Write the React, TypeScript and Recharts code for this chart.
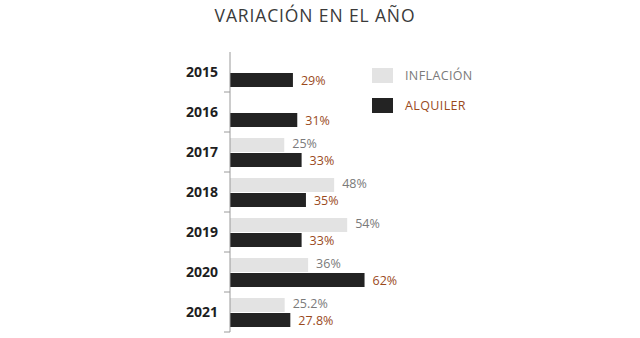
import React from 'react'
import { BarChart, Bar, XAxis, YAxis, LabelList } from 'recharts'

const years = ['2015', '2016', '2017', '2018', '2019', '2020', '2021']
const inflacion = [null, null, 25, 48, 54, 36, 25.2]
const alquiler = [29, 31, 33, 35, 33, 62, 27.8]

const COLORS = {
  infl: '#e3e3e3',
  alq: '#232323',
  inflText: '#7a7a7a',
  alqText: '#9a4a1c',
  axis: '#9a9a9a',
  title: '#3a3a3a',
}

const FONT = '"Open Sans", "DejaVu Sans", sans-serif'

const data = years.map((y, i) => ({ year: y, inflacion: inflacion[i], alquiler: alquiler[i] }))

const fmtPct = (v: any) => (v == null ? '' : `${v}%`)

function YearTick(props: any) {
  const { x, y, payload } = props
  const axisX = x + 8
  return (
    <g>
      <text x={x - 4} y={y} dy={5} textAnchor="end" fontSize={14} fontWeight={700} fill="#1e1e1e" fontFamily={FONT}>
        {payload.value}
      </text>
      <line x1={axisX - 6} x2={axisX} y1={y + 20} y2={y + 20} stroke={COLORS.axis} />
    </g>
  )
}

function LegendBox() {
  const items = [
    { label: 'INFLACIÓN', color: COLORS.infl, text: COLORS.inflText },
    { label: 'ALQUILER', color: COLORS.alq, text: COLORS.alqText },
  ]
  return (
    <div style={{ position: 'absolute', left: 372, top: 68, fontFamily: FONT }}>
      {items.map(it => (
        <div key={it.label} style={{ display: 'flex', alignItems: 'center', height: 15, marginBottom: 15 }}>
          <span style={{ width: 21, height: 15, background: it.color, display: 'inline-block' }} />
          <span style={{ marginLeft: 12, fontSize: 12.5, color: it.text, letterSpacing: '0.03em' }}>{it.label}</span>
        </div>
      ))}
    </div>
  )
}

export default function App() {
  return (
    <div style={{ position: 'absolute', left: 0, top: 0, width: 640, height: 338, background: '#fff' }}>
      <div
        style={{
          position: 'absolute',
          top: 3,
          left: 0,
          width: 630,
          textAlign: 'center',
          fontFamily: FONT,
          fontSize: 17.5,
          color: COLORS.title,
          letterSpacing: '0.05em',
        }}
      >
        VARIACIÓN EN EL AÑO
      </div>
      <BarChart
        width={640}
        height={338}
        data={data}
        layout="vertical"
        margin={{ top: 52, right: 193, left: 0, bottom: 6 }}
        barSize={14}
        barGap={1}
      >
        <XAxis type="number" domain={[0, 100]} hide />
        <YAxis
          type="category"
          dataKey="year"
          width={230}
          axisLine={{ stroke: COLORS.axis }}
          tickLine={false}
          tick={<YearTick />}
          interval={0}
        />
        <Bar dataKey="inflacion" fill={COLORS.infl} isAnimationActive={false}>
          <LabelList dataKey="inflacion" position="right" offset={8} dy={-1} formatter={fmtPct} fill={COLORS.inflText} fontSize={12.5} fontFamily={FONT} />
        </Bar>
        <Bar dataKey="alquiler" fill={COLORS.alq} isAnimationActive={false}>
          <LabelList dataKey="alquiler" position="right" offset={8} dy={1} formatter={fmtPct} fill={COLORS.alqText} fontSize={12.5} fontFamily={FONT} />
        </Bar>
      </BarChart>
      <LegendBox />
    </div>
  )
}
